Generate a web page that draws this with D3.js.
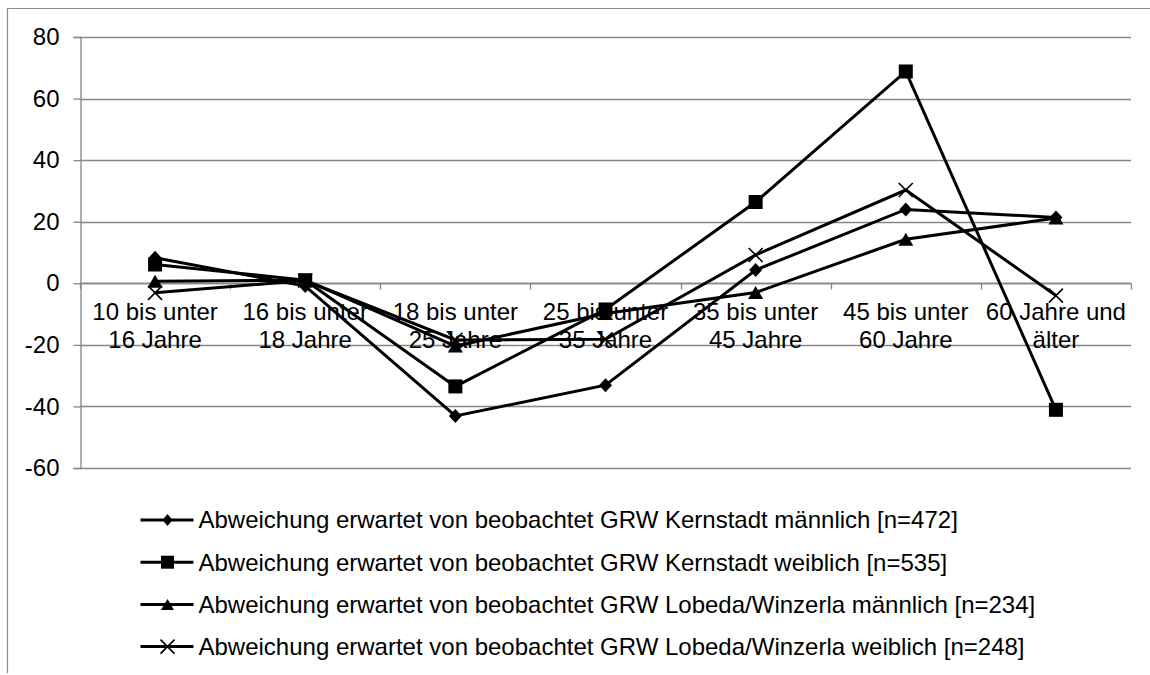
<!DOCTYPE html>
<html><head><meta charset="utf-8">
<script src="https://cdn.jsdelivr.net/npm/d3@7"></script>
<style>body{margin:0;background:#fff}svg{display:block;font-family:"Liberation Sans",Arial,sans-serif}</style>
</head><body>
<svg id="c" width="1150" height="675"></svg>
<script>
const categories = [["10 bis unter","16 Jahre"],["16 bis unter","18 Jahre"],["18 bis unter","25 Jahre"],["25 bis unter","35 Jahre"],["35 bis unter","45 Jahre"],["45 bis unter","60 Jahre"],["60 Jahre und","älter"]];
const seriesNames = [
  "Abweichung erwartet von beobachtet GRW Kernstadt männlich [n=472]",
  "Abweichung erwartet von beobachtet GRW Kernstadt weiblich [n=535]",
  "Abweichung erwartet von beobachtet GRW Lobeda/Winzerla männlich [n=234]",
  "Abweichung erwartet von beobachtet GRW Lobeda/Winzerla weiblich [n=248]"
];
const kernM = [8.3, -0.9, -43.1, -33.1, 4.3, 24.0, 21.4];
const kernW = [6.1, 1.0, -33.5, -8.5, 26.4, 68.8, -41.1];
const lobM  = [0.7, 1.0, -20.4, -9.8, -3.0, 14.3, 21.2];
const lobW  = [-3.1, 0.9, -18.4, -18.2, 9.2, 30.3, -4.0];
const yTicks = [80, 60, 40, 20, 0, -20, -40, -60];
const markers = ["diamond", "square", "triangle", "cross"];
const seriesValues = [kernM, kernW, lobM, lobW];

const svg = d3.select("#c");
const x0 = 80, x1 = 1131, yTop = 37, yBot = 468;
const x = d3.scaleBand().domain(d3.range(categories.length)).range([x0, x1]);
const y = d3.scaleLinear().domain([-60, 80]).range([yBot, yTop]);
const grid = "#868686";
const FS = 24;

// outer frame (top and left edges visible)
svg.append("path").attr("d", "M7.5,673V8.5H1150")
  .attr("fill", "none").attr("stroke", "#8c8c8c").attr("stroke-width", 1.2);

// gridlines
svg.append("g").selectAll("line").data(yTicks).join("line")
  .attr("x1", x0).attr("x2", x1).attr("y1", d => Math.round(y(d)) + 0.5).attr("y2", d => Math.round(y(d)) + 0.5)
  .attr("stroke", grid).attr("stroke-width", 1.3);

// y axis
const yAxis = d3.axisLeft(y).tickValues(yTicks).tickSize(7).tickPadding(14).tickFormat(d => String(d));
const gy = svg.append("g").attr("transform", `translate(${x0 + 0.5},0)`).call(yAxis);
gy.select(".domain").attr("stroke", grid).attr("stroke-width", 1.3);
gy.selectAll(".tick line").attr("stroke", grid).attr("stroke-width", 1.3);
gy.selectAll(".tick text").attr("font-size", FS).attr("fill", "#000").attr("font-family", "Liberation Sans, Arial, sans-serif");

// x axis at 0
const y0 = Math.round(y(0)) + 0.5;
svg.append("line").attr("x1", x0).attr("x2", x1).attr("y1", y0).attr("y2", y0).attr("stroke", grid).attr("stroke-width", 1.3);
const bounds = d3.range(categories.length + 1).map(i => i < categories.length ? x(i) : x1);
svg.append("g").selectAll("line").data(bounds).join("line")
  .attr("x1", d => Math.round(d) + 0.5).attr("x2", d => Math.round(d) + 0.5).attr("y1", y0).attr("y2", y0 + 6)
  .attr("stroke", grid).attr("stroke-width", 1.3);

// category labels
const cl = svg.append("g").attr("font-size", FS).attr("text-anchor", "middle").attr("fill", "#000");
categories.forEach((c, i) => {
  const cx = x(i) + x.bandwidth() / 2;
  const t = cl.append("text").attr("x", cx).attr("y", y0 + 36.5);
  t.append("tspan").attr("x", cx).text(c[0]);
  t.append("tspan").attr("x", cx).attr("dy", 27.5).text(c[1]);
});

function markerPath(type, w, h) {
  const a = w / 2, b = h / 2;
  if (type === "diamond") return `M0,${-b}L${a},0L0,${b}L${-a},0Z`;
  if (type === "square") return `M${-a},${-b}H${a}V${b}H${-a}Z`;
  if (type === "triangle") return `M0,${-b}L${a},${b}L${-a},${b}Z`;
  return `M${-a},${-b}L${a},${b}M${a},${-b}L${-a},${b}`;
}
function drawMarker(g, type, cx, cy, dims) {
  const p = g.append("path").attr("d", markerPath(type, dims[0], dims[1])).attr("transform", `translate(${cx},${cy})`);
  if (type === "cross") p.attr("fill", "none").attr("stroke", "#000").attr("stroke-width", 1.6);
  else p.attr("fill", "#000").attr("stroke", "none");
}
const markerSize = {diamond: [13, 14], square: [14, 14], triangle: [15, 13], cross: [14, 14]};
const legendSize = {diamond: [10, 12], square: [13, 13], triangle: [13, 11], cross: [14, 14]};

const line = d3.line().x((d, i) => x(i) + x.bandwidth() / 2).y(d => y(d));
seriesValues.forEach((vals, si) => {
  const g = svg.append("g");
  g.append("path").datum(vals).attr("d", line).attr("fill", "none").attr("stroke", "#000").attr("stroke-width", 3).attr("stroke-linejoin", "miter");
  vals.forEach((v, i) => drawMarker(g, markers[si], x(i) + x.bandwidth() / 2, y(v), markerSize[markers[si]]));
});

// legend
const lg = svg.append("g");
seriesNames.forEach((name, i) => {
  const ly = 520 + i * 42.2;
  lg.append("line").attr("x1", 140.5).attr("x2", 193.5).attr("y1", ly).attr("y2", ly).attr("stroke", "#000").attr("stroke-width", 3);
  drawMarker(lg, markers[i], 167.5, ly, legendSize[markers[i]]);
  lg.append("text").attr("x", 198.5).attr("y", ly).attr("dy", "0.35em").attr("font-size", FS).attr("fill", "#000").text(name);
});
</script>
</body></html>
